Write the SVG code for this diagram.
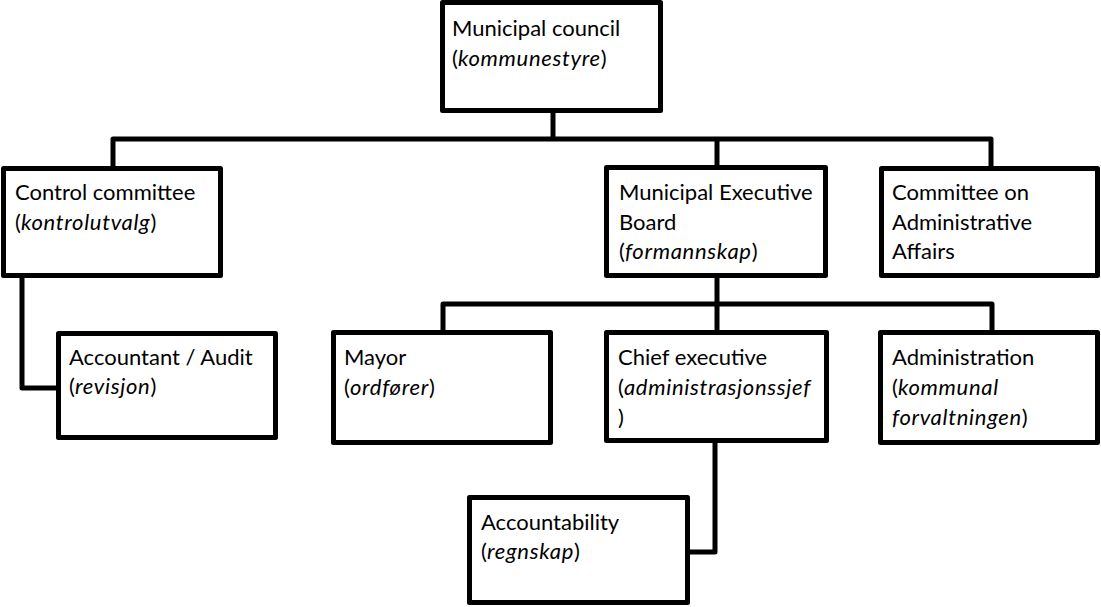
<svg xmlns="http://www.w3.org/2000/svg" width="1101" height="607" viewBox="0 0 1101 607">
<style>
.box{fill:#fff;stroke:#000;stroke-width:5;stroke-linejoin:round}
.con{fill:none;stroke:#000;stroke-width:5;stroke-linejoin:round}
text{font-family:Lato,"Open Sans","Liberation Sans",sans-serif;font-size:22px;fill:#000}
.i{font-style:italic;letter-spacing:0.7px}
</style>
<rect width="1101" height="607" fill="#fff"/>
<g id="connectors">
<polyline class="con" points="553,113 553,139"/>
<polyline class="con" points="113,166 113,139 991,139 991,166"/>
<polyline class="con" points="717,139 717,166"/>
<polyline class="con" points="22,278 22,388 57,388"/>
<polyline class="con" points="717,278 717,304"/>
<polyline class="con" points="443,330 443,304 992,304 992,330"/>
<polyline class="con" points="717,304 717,330"/>
<polyline class="con" points="715,443 715,552 690,552"/>
</g>
<g id="council">
<rect class="box" x="442.5" y="2.5" width="218" height="108"/>
<text x="452" y="36">Municipal council</text>
<text x="452" y="66">(<tspan class="i">kommunestyre</tspan>)</text>
</g>
<g id="control">
<rect class="box" x="3.5" y="168.5" width="217" height="107"/>
<text x="15" y="200">Control committee</text>
<text x="15" y="230">(<tspan class="i">kontrolutvalg</tspan>)</text>
</g>
<g id="executive-board">
<rect class="box" x="606.5" y="167.5" width="219" height="108"/>
<text x="619" y="200">Municipal Executive</text>
<text x="619" y="230">Board</text>
<text x="619" y="259">(<tspan class="i">formannskap</tspan>)</text>
</g>
<g id="committee">
<rect class="box" x="881.5" y="168.5" width="216" height="107"/>
<text x="892" y="200">Committee on</text>
<text x="892" y="230">Administrative</text>
<text x="892" y="259">Affairs</text>
</g>
<g id="accountant">
<rect class="box" x="58.5" y="333.5" width="217" height="104"/>
<text x="69" y="365">Accountant / Audit</text>
<text x="69" y="394">(<tspan class="i">revisjon</tspan>)</text>
</g>
<g id="mayor">
<rect class="box" x="333.5" y="332.5" width="217" height="110"/>
<text x="344" y="365">Mayor</text>
<text x="344" y="395">(<tspan class="i">ordfører</tspan>)</text>
</g>
<g id="chief">
<rect class="box" x="606.5" y="332.5" width="220" height="108"/>
<text x="618" y="365">Chief executive</text>
<text x="618" y="395">(<tspan class="i">administrasjonssjef</tspan></text>
<text x="618" y="425">)</text>
</g>
<g id="administration">
<rect class="box" x="880.5" y="332.5" width="217" height="110"/>
<text x="892" y="365">Administration</text>
<text x="892" y="395">(<tspan class="i">kommunal</tspan></text>
<text x="892" y="425"><tspan class="i">forvaltningen</tspan>)</text>
</g>
<g id="accountability">
<rect class="box" x="469.5" y="497.5" width="218" height="105"/>
<text x="481" y="530">Accountability</text>
<text x="481" y="559">(<tspan class="i">regnskap</tspan>)</text>
</g>
</svg>
